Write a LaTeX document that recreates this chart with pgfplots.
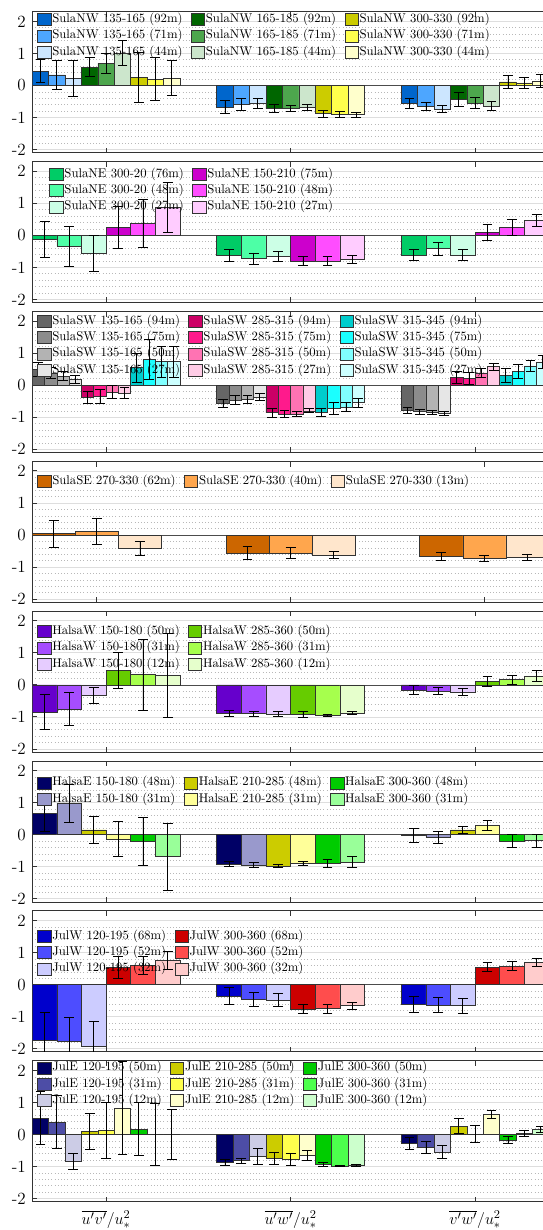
\documentclass[border=0pt]{standalone}
\usepackage{pgfplots}
\pgfplotsset{compat=1.18}
\definecolor{nw1}{HTML}{0066CC}\definecolor{nw2}{HTML}{4DA6FF}\definecolor{nw3}{HTML}{CCE6FF}
\definecolor{nw4}{HTML}{006600}\definecolor{nw5}{HTML}{4DA64D}\definecolor{nw6}{HTML}{CCE6CC}
\definecolor{nw7}{HTML}{CCCC00}\definecolor{nw8}{HTML}{FFFF4D}\definecolor{nw9}{HTML}{FFFFCC}
\definecolor{ne1}{HTML}{00CC66}\definecolor{ne2}{HTML}{4DFFA6}\definecolor{ne3}{HTML}{CCFFE6}
\definecolor{ne4}{HTML}{CC00CC}\definecolor{ne5}{HTML}{FF4DFF}\definecolor{ne6}{HTML}{FFCCFF}
\definecolor{swa}{HTML}{666666}\definecolor{swb}{HTML}{8C8C8C}\definecolor{swc}{HTML}{B3B3B3}\definecolor{swd}{HTML}{E6E6E6}
\definecolor{swe}{HTML}{CC0066}\definecolor{swf}{HTML}{FF1A8C}\definecolor{swg}{HTML}{FF73B3}\definecolor{swh}{HTML}{FFCCE6}
\definecolor{swi}{HTML}{00CCCC}\definecolor{swj}{HTML}{1AFFFF}\definecolor{swk}{HTML}{80FFFF}\definecolor{swl}{HTML}{CCFFFF}
\definecolor{se1}{HTML}{CC6600}\definecolor{se2}{HTML}{FFA64D}\definecolor{se3}{HTML}{FFE6CC}
\definecolor{hw1}{HTML}{6600CC}\definecolor{hw2}{HTML}{A64DFF}\definecolor{hw3}{HTML}{E6CCFF}
\definecolor{hw4}{HTML}{66CC00}\definecolor{hw5}{HTML}{A6FF4D}\definecolor{hw6}{HTML}{E6FFCC}
\definecolor{he1}{HTML}{000066}\definecolor{he2}{HTML}{9999CC}\definecolor{he3}{HTML}{CCCC00}
\definecolor{he4}{HTML}{FFFF99}\definecolor{he5}{HTML}{00CC00}\definecolor{he6}{HTML}{99FF99}
\definecolor{jw1}{HTML}{0000CC}\definecolor{jw2}{HTML}{4D4DFF}\definecolor{jw3}{HTML}{CCCCFF}
\definecolor{jw4}{HTML}{CC0000}\definecolor{jw5}{HTML}{FF4D4D}\definecolor{jw6}{HTML}{FFCCCC}
\definecolor{je1}{HTML}{000066}\definecolor{je2}{HTML}{4D4DA6}\definecolor{je3}{HTML}{CCCCE6}
\definecolor{je4}{HTML}{CCCC00}\definecolor{je5}{HTML}{FFFF4D}\definecolor{je6}{HTML}{FFFFCC}
\definecolor{je7}{HTML}{00CC00}\definecolor{je8}{HTML}{4DFF4D}\definecolor{je9}{HTML}{CCFFCC}
\pgfplotsset{
  panel/.style={
    width=387.5pt, height=105.75pt, scale only axis,
    xmin=0.6, xmax=3.4, ymin=-2.1, ymax=2.3,
    xtick={1,2,3}, xticklabels={{},{},{}},
    ytick={-2,-1,0,1,2}, yticklabels={-2,-1,0,1,2},
    minor y tick num=4,
    ymajorgrids, yminorgrids,
    major grid style={black!13, line width=0.55pt},
    minor grid style={black!28, dotted, line width=0.45pt},
    tick align=inside, major tick length=3.9pt, minor tick length=0pt,
    axis line style={black!80, line width=0.7pt},
    every tick/.style={black!80, line width=0.7pt},
    yticklabel style={font=\fontsize{12.8}{14}\selectfont, inner sep=0pt, xshift=-4.7pt},
    legend style={at={(0,1)}, anchor=north west, draw=none, fill=none,
      inner sep=0pt, outer sep=0pt, font=\fontsize{9.5}{11}\selectfont,
      row sep=2pt, column sep=0pt,
      nodes={inner xsep=0.8pt, inner ysep=0.5pt, text height=6.8pt, text depth=2.4pt, anchor=west},
      /tikz/every even column/.append style={column sep=5.5pt}},
    legend image code/.code={\draw[##1] (0pt,-4.5pt) rectangle (10pt,4.5pt);},
  }
}
\newcommand{\zl}{\addplot[forget plot, black!70, line width=0.6pt] coordinates {(0.5,0) (3.5,0)};}
\newcommand{\bb}[5]{%
  \addplot[ybar, bar width=#1, bar shift=0, x filter/.expression={x+(#2)},
    fill=#3, draw=black!80, line width=0.45pt,
    error bars/.cd, y dir=both, y explicit,
    error bar style={black, line width=0.6pt},
    error mark options={black, rotate=90, mark size=3.7pt, line width=0.6pt}]
    coordinates {#4};
  \addlegendentry{#5}}
\begin{document}
\begin{tikzpicture}
% ---------- Panel 1: SulaNW
\begin{axis}[panel, at={(0pt,0pt)}, anchor=north west, legend columns=3,
  legend style={xshift=3.8pt, yshift=-0.9pt}]
\zl
\bb{0.08889}{-0.35556}{nw1}{(1,0.45) +- (0,0.37) (2,-0.67) +- (0,0.19) (3,-0.55) +- (0,0.16)}{SulaNW 135-165 (92m)}
\bb{0.08889}{-0.08889}{nw4}{(1,0.57) +- (0,0.30) (2,-0.72) +- (0,0.12) (3,-0.44) +- (0,0.22)}{SulaNW 165-185 (92m)}
\bb{0.08889}{0.17778}{nw7}{(1,0.25) +- (0,0.77) (2,-0.88) +- (0,0.11) (3,0.11) +- (0,0.21)}{SulaNW 300-330 (92m)}
\bb{0.08889}{-0.26667}{nw2}{(1,0.33) +- (0,0.45) (2,-0.59) +- (0,0.19) (3,-0.65) +- (0,0.13)}{SulaNW 135-165 (71m)}
\bb{0.08889}{0}{nw5}{(1,0.69) +- (0,0.31) (2,-0.72) +- (0,0.10) (3,-0.55) +- (0,0.17)}{SulaNW 165-185 (71m)}
\bb{0.08889}{0.26667}{nw8}{(1,0.20) +- (0,0.67) (2,-0.91) +- (0,0.10) (3,0.08) +- (0,0.18)}{SulaNW 300-330 (71m)}
\bb{0.08889}{-0.17778}{nw3}{(1,0.23) +- (0,0.56) (2,-0.55) +- (0,0.16) (3,-0.73) +- (0,0.11)}{SulaNW 135-165 (44m)}
\bb{0.08889}{0.08889}{nw6}{(1,1.01) +- (0,0.39) (2,-0.68) +- (0,0.09) (3,-0.64) +- (0,0.13)}{SulaNW 165-185 (44m)}
\bb{0.08889}{0.35556}{nw9}{(1,0.23) +- (0,0.55) (2,-0.91) +- (0,0.08) (3,0.14) +- (0,0.19)}{SulaNW 300-330 (44m)}
\end{axis}
% ---------- Panel 2: SulaNE
\begin{axis}[panel, at={(0pt,-112.4pt)}, anchor=north west, legend columns=2,
  legend style={xshift=12.9pt, yshift=-4.5pt}]
\zl
\bb{0.13333}{-0.33333}{ne1}{(1,-0.13) +- (0,0.57) (2,-0.63) +- (0,0.18) (3,-0.61) +- (0,0.17)}{SulaNE 300-20 (76m)}
\bb{0.13333}{0.06667}{ne4}{(1,0.24) +- (0,0.66) (2,-0.81) +- (0,0.14) (3,0.09) +- (0,0.25)}{SulaNE 150-210 (75m)}
\bb{0.13333}{-0.2}{ne2}{(1,-0.34) +- (0,0.62) (2,-0.73) +- (0,0.18) (3,-0.42) +- (0,0.20)}{SulaNE 300-20 (48m)}
\bb{0.13333}{0.2}{ne5}{(1,0.36) +- (0,0.75) (2,-0.80) +- (0,0.14) (3,0.25) +- (0,0.24)}{SulaNE 150-210 (48m)}
\bb{0.13333}{-0.06667}{ne3}{(1,-0.57) +- (0,0.57) (2,-0.65) +- (0,0.16) (3,-0.61) +- (0,0.18)}{SulaNE 300-20 (27m)}
\bb{0.13333}{0.33333}{ne6}{(1,0.88) +- (0,0.78) (2,-0.76) +- (0,0.12) (3,0.47) +- (0,0.19)}{SulaNE 150-210 (27m)}
\end{axis}
% ---------- Panel 3: SulaSW
\begin{axis}[panel, at={(0pt,-224.8pt)}, anchor=north west, legend columns=3,
  legend style={xshift=3.8pt, yshift=-2.4pt}]
\zl
\bb{0.06667}{-0.36667}{swa}{(1,0.48) +- (0,0.22) (2,-0.57) +- (0,0.13) (3,-0.78) +- (0,0.10)}{SulaSW 135-165 (94m)}
\bb{0.06667}{-0.1}{swe}{(1,-0.38) +- (0,0.20) (2,-0.86) +- (0,0.14) (3,0.25) +- (0,0.19)}{SulaSW 285-315 (94m)}
\bb{0.06667}{0.16667}{swi}{(1,0.55) +- (0,0.45) (2,-0.85) +- (0,0.13) (3,0.30) +- (0,0.21)}{SulaSW 315-345 (94m)}
\bb{0.06667}{-0.3}{swb}{(1,0.38) +- (0,0.16) (2,-0.46) +- (0,0.14) (3,-0.83) +- (0,0.08)}{SulaSW 135-165 (75m)}
\bb{0.06667}{-0.03333}{swf}{(1,-0.35) +- (0,0.21) (2,-0.90) +- (0,0.10) (3,0.20) +- (0,0.19)}{SulaSW 285-315 (75m)}
\bb{0.06667}{0.23333}{swj}{(1,0.80) +- (0,0.62) (2,-0.72) +- (0,0.18) (3,0.43) +- (0,0.21)}{SulaSW 315-345 (75m)}
\bb{0.06667}{-0.23333}{swc}{(1,0.28) +- (0,0.14) (2,-0.44) +- (0,0.13) (3,-0.85) +- (0,0.07)}{SulaSW 135-165 (50m)}
\bb{0.06667}{0.03333}{swg}{(1,-0.22) +- (0,0.20) (2,-0.90) +- (0,0.09) (3,0.38) +- (0,0.15)}{SulaSW 285-315 (50m)}
\bb{0.06667}{0.3}{swk}{(1,0.73) +- (0,0.48) (2,-0.68) +- (0,0.14) (3,0.60) +- (0,0.18)}{SulaSW 315-345 (50m)}
\bb{0.06667}{-0.16667}{swd}{(1,0.18) +- (0,0.11) (2,-0.38) +- (0,0.11) (3,-0.88) +- (0,0.07)}{SulaSW 135-165 (27m)}
\bb{0.06667}{0.1}{swh}{(1,-0.25) +- (0,0.17) (2,-0.80) +- (0,0.06) (3,0.58) +- (0,0.11)}{SulaSW 285-315 (27m)}
\bb{0.06667}{0.36667}{swl}{(1,0.73) +- (0,0.48) (2,-0.55) +- (0,0.13) (3,0.72) +- (0,0.20)}{SulaSW 315-345 (27m)}
\end{axis}
% ---------- Panel 4: SulaSE
\begin{axis}[panel, at={(0pt,-337.2pt)}, anchor=north west, xmin=0.66667, xmax=3.33333, legend columns=3,
  legend style={xshift=3.8pt, yshift=-9.9pt}]
\zl
\bb{0.22222}{-0.22222}{se1}{(1,0.04) +- (0,0.42) (2,-0.56) +- (0,0.20) (3,-0.66) +- (0,0.13)}{SulaSE 270-330 (62m)}
\bb{0.22222}{0}{se2}{(1,0.11) +- (0,0.40) (2,-0.56) +- (0,0.17) (3,-0.73) +- (0,0.10)}{SulaSE 270-330 (40m)}
\bb{0.22222}{0.22222}{se3}{(1,-0.42) +- (0,0.22) (2,-0.62) +- (0,0.10) (3,-0.69) +- (0,0.10)}{SulaSE 270-330 (13m)}
\end{axis}
% ---------- Panel 5: HalsaW
\begin{axis}[panel, at={(0pt,-449.6pt)}, anchor=north west, legend columns=2,
  legend style={xshift=3.8pt, yshift=-10.3pt}]
\zl
\bb{0.13333}{-0.33333}{hw1}{(1,-0.85) +- (0,0.55) (2,-0.89) +- (0,0.09) (3,-0.17) +- (0,0.14)}{HalsaW 150-180 (50m)}
\bb{0.13333}{0.06667}{hw4}{(1,0.46) +- (0,0.56) (2,-0.91) +- (0,0.09) (3,0.11) +- (0,0.15)}{HalsaW 285-360 (50m)}
\bb{0.13333}{-0.2}{hw2}{(1,-0.75) +- (0,0.52) (2,-0.90) +- (0,0.08) (3,-0.19) +- (0,0.12)}{HalsaW 150-180 (31m)}
\bb{0.13333}{0.2}{hw5}{(1,0.32) +- (0,1.11) (2,-0.94) +- (0,0.03) (3,0.16) +- (0,0.13)}{HalsaW 285-360 (31m)}
\bb{0.13333}{-0.06667}{hw3}{(1,-0.33) +- (0,0.24) (2,-0.91) +- (0,0.07) (3,-0.22) +- (0,0.12)}{HalsaW 150-180 (12m)}
\bb{0.13333}{0.33333}{hw6}{(1,0.30) +- (0,1.30) (2,-0.88) +- (0,0.05) (3,0.28) +- (0,0.17)}{HalsaW 285-360 (12m)}
\end{axis}
% ---------- Panel 6: HalsaE
\begin{axis}[panel, at={(0pt,-562.0pt)}, anchor=north west, legend columns=3,
  legend style={xshift=3.8pt, yshift=-11.2pt}]
\zl
\bb{0.13333}{-0.33333}{he1}{(1,0.67) +- (0,0.58) (2,-0.91) +- (0,0.09) (3,-0.02) +- (0,0.21)}{HalsaE 150-180 (48m)}
\bb{0.13333}{-0.06667}{he3}{(1,0.15) +- (0,0.41) (2,-0.97) +- (0,0.04) (3,0.15) +- (0,0.12)}{HalsaE 210-285 (48m)}
\bb{0.13333}{0.2}{he5}{(1,-0.20) +- (0,0.75) (2,-0.89) +- (0,0.13) (3,-0.20) +- (0,0.20)}{HalsaE 300-360 (48m)}
\bb{0.13333}{-0.2}{he2}{(1,0.98) +- (0,0.60) (2,-0.94) +- (0,0.08) (3,-0.08) +- (0,0.18)}{HalsaE 150-180 (31m)}
\bb{0.13333}{0.06667}{he4}{(1,-0.13) +- (0,0.55) (2,-0.89) +- (0,0.06) (3,0.30) +- (0,0.16)}{HalsaE 210-285 (31m)}
\bb{0.13333}{0.33333}{he6}{(1,-0.68) +- (0,1.05) (2,-0.85) +- (0,0.17) (3,-0.18) +- (0,0.20)}{HalsaE 300-360 (31m)}
\end{axis}
% ---------- Panel 7: JulW
\begin{axis}[panel, at={(0pt,-674.4pt)}, anchor=north west, legend columns=2,
  legend style={xshift=3.8pt, yshift=-13.9pt}]
\zl
\bb{0.13333}{-0.33333}{jw1}{(1,-1.74) +- (0,0.86) (2,-0.35) +- (0,0.27) (3,-0.61) +- (0,0.25)}{JulW 120-195 (68m)}
\bb{0.13333}{0.06667}{jw4}{(1,0.54) +- (0,0.35) (2,-0.77) +- (0,0.14) (3,0.55) +- (0,0.14)}{JulW 300-360 (68m)}
\bb{0.13333}{-0.2}{jw2}{(1,-1.78) +- (0,0.75) (2,-0.46) +- (0,0.22) (3,-0.63) +- (0,0.24)}{JulW 120-195 (52m)}
\bb{0.13333}{0.2}{jw5}{(1,0.59) +- (0,0.28) (2,-0.75) +- (0,0.14) (3,0.58) +- (0,0.15)}{JulW 300-360 (52m)}
\bb{0.13333}{-0.06667}{jw3}{(1,-1.91) +- (0,0.75) (2,-0.48) +- (0,0.20) (3,-0.66) +- (0,0.23)}{JulW 120-195 (32m)}
\bb{0.13333}{0.33333}{jw6}{(1,0.76) +- (0,0.27) (2,-0.66) +- (0,0.10) (3,0.70) +- (0,0.12)}{JulW 300-360 (32m)}
\end{axis}
% ---------- Panel 8: JulE
\begin{axis}[panel, at={(0pt,-786.8pt)}, anchor=north west, legend columns=3,
  legend style={xshift=3.8pt, yshift=-0.2pt},
  xticklabels={{$\overline{u'v'}/u_*^2$},{$\overline{u'w'}/u_*^2$},{$\overline{v'w'}/u_*^2$}},
  xticklabel style={font=\fontsize{12.8}{14}\selectfont, inner sep=0pt, yshift=-6.2pt}]
\zl
\bb{0.08889}{-0.35556}{je1}{(1,0.51) +- (0,0.82) (2,-0.87) +- (0,0.09) (3,-0.28) +- (0,0.20)}{JulE 120-195 (50m)}
\bb{0.08889}{-0.08889}{je4}{(1,0.10) +- (0,0.55) (2,-0.75) +- (0,0.19) (3,0.26) +- (0,0.24)}{JulE 210-285 (50m)}
\bb{0.08889}{0.17778}{je7}{(1,0.17) +- (0,0.83) (2,-0.93) +- (0,0.07) (3,-0.17) +- (0,0.12)}{JulE 300-360 (50m)}
\bb{0.08889}{-0.26667}{je2}{(1,0.39) +- (0,0.83) (2,-0.82) +- (0,0.09) (3,-0.41) +- (0,0.19)}{JulE 120-195 (31m)}
\bb{0.08889}{0}{je5}{(1,0.13) +- (0,0.88) (2,-0.77) +- (0,0.19) (3,0.01) +- (0,0.27)}{JulE 210-285 (31m)}
\bb{0.08889}{0.26667}{je8}{(1,0.01) +- (0,0.96) (2,-0.98) +- (0,0.02) (3,0.04) +- (0,0.09)}{JulE 300-360 (31m)}
\bb{0.08889}{-0.17778}{je3}{(1,-0.84) +- (0,0.26) (2,-0.68) +- (0,0.25) (3,-0.55) +- (0,0.20)}{JulE 120-195 (12m)}
\bb{0.08889}{0.08889}{je6}{(1,0.83) +- (0,1.44) (2,-0.66) +- (0,0.16) (3,0.63) +- (0,0.13)}{JulE 210-285 (12m)}
\bb{0.08889}{0.35556}{je9}{(1,0.00) +- (0,0.79) (2,-0.96) +- (0,0.04) (3,0.16) +- (0,0.10)}{JulE 300-360 (12m)}
\end{axis}
\pgfresetboundingbox
\path[use as bounding box] (-24.2pt,8.8pt) rectangle (383.0pt,-913.7pt);
\end{tikzpicture}
\end{document}
